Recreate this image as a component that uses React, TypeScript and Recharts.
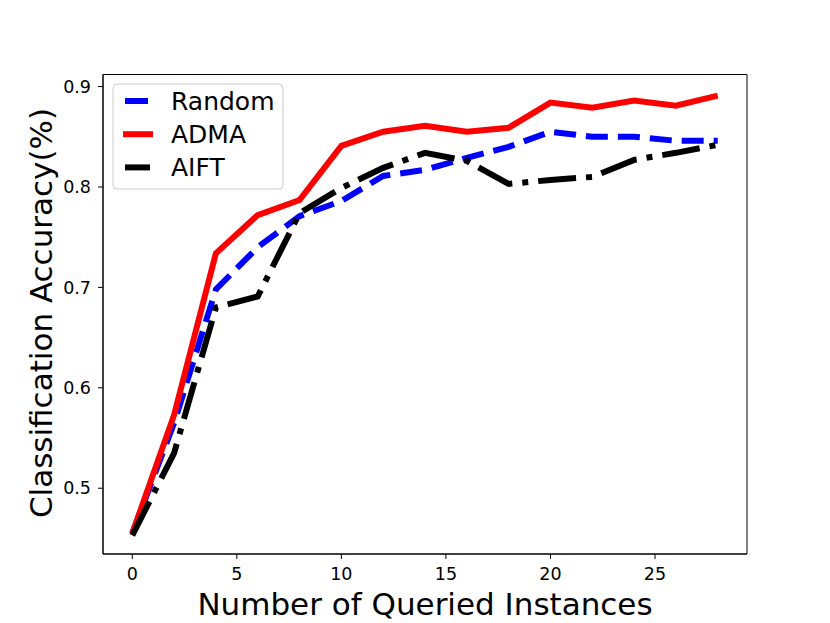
import React from 'react'
import { LineChart, Line, XAxis, YAxis, ReferenceArea } from 'recharts'

const queried = [0, 2, 4, 6, 8, 10, 12, 14, 16, 18, 20, 22, 24, 26, 28]
const randomAcc = [0.455, 0.565, 0.698, 0.74, 0.771, 0.786, 0.811, 0.817, 0.829, 0.84, 0.855, 0.85, 0.85, 0.846, 0.846]
const admaAcc = [0.455, 0.573, 0.734, 0.772, 0.787, 0.841, 0.855, 0.861, 0.855, 0.859, 0.884, 0.879, 0.886, 0.881, 0.891]
const aiftAcc = [0.453, 0.535, 0.68, 0.691, 0.774, 0.799, 0.819, 0.834, 0.826, 0.803, 0.807, 0.81, 0.827, 0.834, 0.842]

const xTicks = [0, 5, 10, 15, 20, 25]
const yTicks = [0.5, 0.6, 0.7, 0.8, 0.9]

const X_DOMAIN: [number, number] = [-1.4, 29.4]
const Y_DOMAIN: [number, number] = [0.4345, 0.912]

const FONT = '"DejaVu Sans", sans-serif'

const data = queried.map((q, i) => ({
  q,
  random: randomAcc[i],
  adma: admaAcc[i],
  aift: aiftAcc[i],
}))

const series = [
  { key: 'random', name: 'Random', color: '#0000ff', dash: '22 10' },
  { key: 'adma', name: 'ADMA', color: '#ff0000', dash: undefined },
  { key: 'aift', name: 'AIFT', color: '#000000', dash: '38 10 6 10' },
]

export default function App() {
  return (
    <div style={{ position: 'absolute', left: 0, top: 0, width: 830, height: 623, background: '#fff' }}>
      <LineChart
        width={830}
        height={623}
        data={data}
        margin={{ top: 74.5, right: 83, bottom: 29, left: 43 }}
      >
        <XAxis
          dataKey="q"
          type="number"
          domain={X_DOMAIN}
          ticks={xTicks}
          allowDataOverflow
          height={40}
          stroke="#000"
          tickSize={5}
          tickMargin={9}
          tick={{ fill: '#000', fontSize: 17.5, fontFamily: FONT }}
        />
        <YAxis
          type="number"
          domain={Y_DOMAIN}
          ticks={yTicks}
          allowDataOverflow
          width={60}
          stroke="#000"
          tickSize={5}
          tickMargin={7}
          tick={{ fill: '#000', fontSize: 17.5, fontFamily: FONT }}
          tickFormatter={(v: number) => v.toFixed(1)}
        />
        <ReferenceArea
          x1={X_DOMAIN[0]}
          x2={X_DOMAIN[1]}
          y1={Y_DOMAIN[0]}
          y2={Y_DOMAIN[1]}
          fill="none"
          fillOpacity={0}
          stroke="#000"
          strokeWidth={1}
          ifOverflow="visible"
        />
        {series.map(s => (
          <Line
            key={s.key}
            dataKey={s.key}
            name={s.name}
            type="linear"
            stroke={s.color}
            strokeWidth={6}
            strokeDasharray={s.dash}
            dot={false}
            activeDot={false}
            isAnimationActive={false}
          />
        ))}
      </LineChart>

      {/* axis titles and legend drawn over the chart */}
      <svg
        width={830}
        height={623}
        style={{ position: 'absolute', left: 0, top: 0, pointerEvents: 'none' }}
      >
        <text x={425} y={615} textAnchor="middle" fontSize={31} fontFamily={FONT} fill="#000">
          Number of Queried Instances
        </text>
        <text
          x={0}
          y={0}
          transform="translate(52,313) rotate(-90)"
          textAnchor="middle"
          fontSize={31}
          fontFamily={FONT}
          fill="#000"
        >
          Classification Accuracy(%)
        </text>

        <rect x={113} y={84} width={170} height={105} rx={4} fill="#fff" fillOpacity={0.8} stroke="#cccccc" />
        {series.map((s, i) => {
          const cy = 101 + i * 33.2
          return (
            <g key={s.key}>
              <line
                x1={s.key === 'adma' ? 123 : 125}
                x2={s.key === 'random' ? 148 : s.key === 'adma' ? 153 : 150}
                y1={cy}
                y2={cy}
                stroke={s.color}
                strokeWidth={6}
              />
              <text x={171} y={cy + 9} fontSize={25} fontFamily={FONT} fill="#000">
                {s.name}
              </text>
            </g>
          )
        })}
      </svg>
    </div>
  )
}
